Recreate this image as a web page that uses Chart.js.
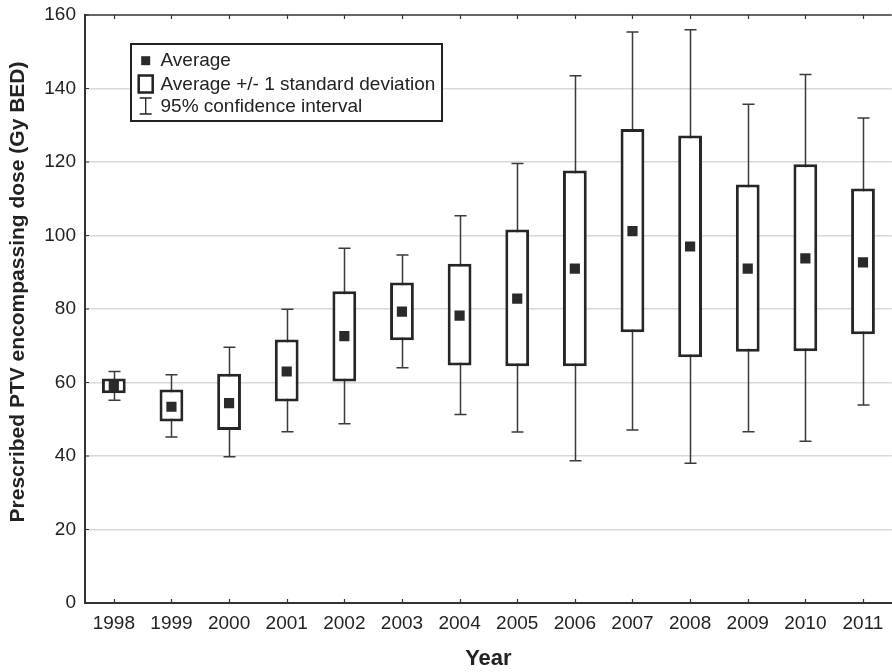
<!DOCTYPE html>
<html>
<head>
<meta charset="utf-8">
<title>Prescribed PTV encompassing dose by year</title>
<script src="https://cdn.jsdelivr.net/npm/chart.js@4/dist/chart.umd.min.js"></script>
<style>
  html, body { margin: 0; padding: 0; background: #fff; overflow: hidden; }
  #wrap { width: 892px; height: 672px; overflow: hidden; position: relative; }
  #wrap canvas { display: block; }
</style>
</head>
<body>
<div id="wrap"><canvas id="chart" width="899" height="672"></canvas></div>
<script>
// Yearly summary of prescribed PTV encompassing dose (Gy BED)
const years = ['1998', '1999', '2000', '2001', '2002', '2003', '2004', '2005', '2006', '2007', '2008', '2009', '2010', '2011'];
const averages = [59.0, 53.4, 54.4, 63.0, 72.6, 79.3, 78.2, 82.8, 91.0, 101.2, 97.0, 91.0, 93.8, 92.7];
const sdLow  = [57.1, 49.4, 47.1, 54.8, 60.3, 71.5, 64.6, 64.4, 64.4, 73.7, 66.9, 68.4, 68.5, 73.1];
const sdHigh = [61.1, 58.1, 62.4, 71.7, 84.8, 87.2, 92.3, 101.6, 117.7, 129.0, 127.2, 113.9, 119.4, 112.8];
const ciLow  = [55.2, 45.2, 39.8, 46.6, 48.8, 64.0, 51.3, 46.5, 38.7, 47.1, 38.0, 46.6, 44.0, 53.9];
const ciHigh = [63.0, 62.1, 69.6, 79.9, 96.5, 94.7, 105.4, 119.6, 143.5, 155.4, 156.0, 135.7, 143.8, 132.0];
const yTicks = [0, 20, 40, 60, 80, 100, 120, 140, 160];
const legendLabels = ['Average', 'Average +/- 1 standard deviation', '95% confidence interval'];
const yTitle = 'Prescribed PTV encompassing dose (Gy BED)';

const FONT = '"Liberation Sans", Arial, Helvetica, sans-serif';
const INK = '#222222';

// Whiskers for the 95% confidence interval, drawn behind the boxes
const whiskerPlugin = {
  id: 'whiskers',
  beforeDatasetsDraw(chart) {
    const { ctx, scales: { x, y } } = chart;
    ctx.save();
    ctx.strokeStyle = '#3a3a3a';
    ctx.lineWidth = 1.5;
    const cap = 6;
    years.forEach((yr, i) => {
      const px = Math.round(x.getPixelForValue(i)) + 0.5;
      const lo = y.getPixelForValue(ciLow[i]);
      const hi = y.getPixelForValue(ciHigh[i]);
      ctx.beginPath();
      ctx.moveTo(px, lo); ctx.lineTo(px, hi);
      ctx.moveTo(px - cap, lo); ctx.lineTo(px + cap, lo);
      ctx.moveTo(px - cap, hi); ctx.lineTo(px + cap, hi);
      ctx.stroke();
    });
    ctx.restore();
  }
};

// Frame: top border, inner tick marks, y-axis title and the legend box
const framePlugin = {
  id: 'frame',
  afterDraw(chart) {
    const { ctx, chartArea: a, scales: { x, y } } = chart;
    ctx.save();
    ctx.strokeStyle = '#333';
    ctx.lineWidth = 1.5;
    ctx.beginPath();
    ctx.moveTo(a.left, a.top); ctx.lineTo(a.right, a.top);
    ctx.stroke();
    ctx.lineWidth = 1.2;
    ctx.beginPath();
    years.forEach((yr, i) => {
      const px = Math.round(x.getPixelForValue(i)) + 0.5;
      ctx.moveTo(px, a.bottom); ctx.lineTo(px, a.bottom - 4);
      ctx.moveTo(px, a.top); ctx.lineTo(px, a.top + 4);
    });
    yTicks.forEach(v => {
      const py = y.getPixelForValue(v);
      ctx.moveTo(a.left, py); ctx.lineTo(a.left + 4, py);
    });
    ctx.stroke();

    // y-axis title
    ctx.save();
    ctx.translate(18, 292);
    ctx.rotate(-Math.PI / 2);
    ctx.fillStyle = INK;
    ctx.font = 'bold 21px ' + FONT;
    ctx.textAlign = 'center';
    ctx.textBaseline = 'middle';
    ctx.fillText(yTitle, 0, 0);
    ctx.restore();

    // Legend
    const L = 131, T = 44, W = 311, H = 77;
    ctx.fillStyle = '#fff';
    ctx.fillRect(L, T, W, H);
    ctx.strokeStyle = INK;
    ctx.lineWidth = 2;
    ctx.strokeRect(L, T, W, H);

    const rows = [60.7, 84, 106];
    const ix = 145.7;
    ctx.fillStyle = '#2a2a2a';
    ctx.fillRect(ix - 4.5, rows[0] - 4.5, 9, 9);
    ctx.lineWidth = 2.5;
    ctx.strokeStyle = INK;
    ctx.strokeRect(ix - 7, rows[1] - 8.5, 14, 17);
    ctx.lineWidth = 1.3;
    ctx.beginPath();
    ctx.moveTo(ix, rows[2] - 8); ctx.lineTo(ix, rows[2] + 8);
    ctx.moveTo(ix - 6, rows[2] - 8); ctx.lineTo(ix + 6, rows[2] - 8);
    ctx.moveTo(ix - 6, rows[2] + 8); ctx.lineTo(ix + 6, rows[2] + 8);
    ctx.stroke();

    ctx.fillStyle = INK;
    ctx.font = '19px ' + FONT;
    ctx.textBaseline = 'middle';
    ctx.textAlign = 'left';
    legendLabels.forEach((t, i) => ctx.fillText(t, 160.5, rows[i] + 0.5));
    ctx.restore();
  }
};

new Chart(document.getElementById('chart'), {
  type: 'bar',
  data: {
    labels: years,
    datasets: [
      {
        type: 'line',
        label: 'Average',
        data: averages,
        showLine: false,
        pointStyle: 'rect',
        pointRadius: 7.2,
        pointHoverRadius: 7.2,
        pointBackgroundColor: '#2a2a2a',
        pointBorderWidth: 0,
        order: 0
      },
      {
        type: 'bar',
        label: 'Average +/- 1 standard deviation',
        data: years.map((yr, i) => [sdLow[i], sdHigh[i]]),
        backgroundColor: '#ffffff',
        borderColor: '#262626',
        borderWidth: 3,
        borderSkipped: false,
        barPercentage: 0.413,
        categoryPercentage: 1.0,
        order: 1
      }
    ]
  },
  options: {
    responsive: false,
    animation: false,
    events: [],
    layout: { padding: { top: 15, left: 0, right: 0, bottom: 0 } },
    plugins: {
      legend: { display: false },
      tooltip: { enabled: false }
    },
    scales: {
      x: {
        type: 'category',
        offset: true,
        grid: { display: false, drawTicks: false },
        border: { display: true, color: '#333', width: 2 },
        ticks: {
          color: INK,
          font: { family: FONT, size: 19 },
          padding: 9,
          maxRotation: 0,
          autoSkip: false
        },
        title: {
          display: true,
          text: 'Year',
          color: INK,
          font: { family: FONT, size: 22, weight: 'bold' },
          padding: { top: 0, bottom: 0 }
        },
        afterFit(scale) { scale.height = 69; }
      },
      y: {
        min: 0,
        max: 160,
        afterBuildTicks(scale) { scale.ticks = yTicks.map(v => ({ value: v })); },
        grid: {
          drawTicks: false,
          lineWidth: 1.5,
          color: ctx => (ctx.tick && (ctx.tick.value === 0 || ctx.tick.value === 160)) ? 'rgba(0,0,0,0)' : '#d8d8d8'
        },
        border: { display: true, color: '#333', width: 2 },
        ticks: {
          color: INK,
          font: { family: FONT, size: 19 },
          padding: 9
        },
        title: { display: false },
        afterFit(scale) {
          scale.width = 85;
          scale.paddingTop = 0;
          scale.paddingBottom = 0;
        }
      }
    }
  },
  plugins: [whiskerPlugin, framePlugin]
});
</script>
</body>
</html>
